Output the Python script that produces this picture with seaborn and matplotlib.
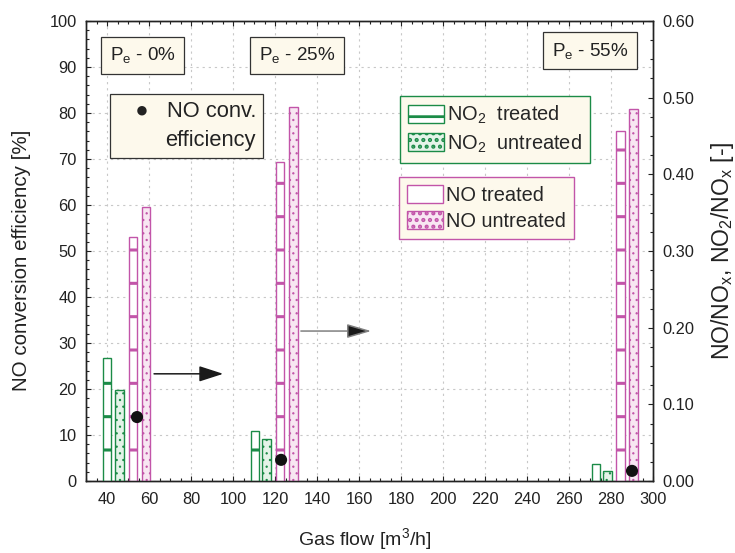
import numpy as np
import pandas as pd
import seaborn as sns
import matplotlib.pyplot as plt
from matplotlib.ticker import MultipleLocator

# gas flow position of every bar [m3/h]
x_no2_treated = [40.0, 110.5, 272.8]
x_no2_untreated = [46.0, 116.0, 278.3]
x_no_treated = [52.5, 122.4, 284.5]
x_no_untreated = [58.5, 128.8, 290.8]

# ratios NO/NOx and NO2/NOx [-] (right axis)
no2_treated = [0.161, 0.065, 0.022]
no2_untreated = [0.119, 0.055, 0.013]
no_treated = [0.318, 0.416, 0.457]
no_untreated = [0.357, 0.488, 0.485]

# NO conversion efficiency [%] (left axis)
eff_flow = [54.3, 122.9, 290.0]
no_eff = [13.9, 4.6, 2.2]

pe_labels = ["P$_e$ - 0%", "P$_e$ - 25%", "P$_e$ - 55%"]

GREEN = "#1b8b47"
PINK = "#c255a9"
CREAM = "#fdf9ec"

sns.set_theme(style="ticks")
plt.rcParams["font.family"] = ["Liberation Sans", "DejaVu Sans"]
plt.rcParams["mathtext.default"] = "regular"
plt.rcParams["axes.edgecolor"] = "#222222"

fig = plt.figure(figsize=(3.675, 2.765), dpi=200)
ax = fig.add_axes([86 / 735, 1 - 481 / 553, 567 / 735, 460 / 553])
ax2 = ax.twinx()   # bars, right scale
ax3 = ax.twinx()   # dots, left scale, on top

ax.set_xlim(30, 300)
ax.set_ylim(0, 100)
ax2.set_ylim(0, 0.6)
ax3.set_ylim(0, 100)

ax.xaxis.set_major_locator(MultipleLocator(20))
ax.xaxis.set_minor_locator(MultipleLocator(5))
ax.yaxis.set_major_locator(MultipleLocator(10))
ax.yaxis.set_minor_locator(MultipleLocator(2))
ax2.yaxis.set_major_locator(MultipleLocator(0.1))
ax2.yaxis.set_minor_locator(MultipleLocator(0.025))
ax2.yaxis.set_major_formatter("{x:.2f}")

ax.grid(True, which="major", color="#c8c8c8", linestyle=(0, (2, 3.5)), linewidth=0.4)

for a in (ax, ax2, ax3):
    for s in a.spines.values():
        s.set_linewidth(0.5)
ax.tick_params(which="both", direction="in", top=True, right=False, width=0.4,
               labelsize=5.9, colors="#222222")
ax.tick_params(which="major", length=1.8)
ax.tick_params(which="minor", length=1.0)
ax.tick_params(axis="y", pad=3.4)
ax.tick_params(axis="x", pad=4.0)
ax2.tick_params(which="both", direction="in", width=0.4, labelsize=5.9, pad=3.4,
                colors="#222222")
ax2.tick_params(which="major", length=1.8)
ax2.tick_params(which="minor", length=1.0)
ax3.yaxis.set_visible(False)
for s in ax3.spines.values():
    s.set_visible(False)


def draw_bars(x, h, fc, ec, hatch, hlw, label):
    with plt.rc_context({"hatch.linewidth": hlw}):
        cont = ax2.bar(x, h, width=4.0, facecolor=fc, edgecolor=ec, hatch=hatch,
                       linewidth=0.5, label=label)
    for p in cont:
        if hasattr(p, "set_hatch_linewidth"):
            p.set_hatch_linewidth(hlw)
    return cont


b1 = draw_bars(x_no2_treated, no2_treated, "white", GREEN, "-", 1.1, "NO$_2$  treated")
b2 = draw_bars(x_no2_untreated, no2_untreated, "#e4f3e8", GREEN, ".....", 0.35, "NO$_2$  untreated")
b3 = draw_bars(x_no_treated, no_treated, "white", PINK, "-", 1.1, "NO treated")
b4 = draw_bars(x_no_untreated, no_untreated, "#f8e6f2", PINK, ".....", 0.35, "NO untreated")

sns.scatterplot(x=eff_flow, y=no_eff, ax=ax3, color="#111111", s=19,
                edgecolor="none", zorder=5)

leg_kw = dict(loc="upper left", fontsize=7.2, frameon=True, fancybox=False,
              framealpha=1, facecolor=CREAM, handlelength=1.8, handleheight=1.0,
              handletextpad=0.15, labelspacing=0.3, borderpad=0.4, borderaxespad=0)
leg1 = ax2.legend(handles=[b1, b2], bbox_to_anchor=(0.554, 0.837), edgecolor=GREEN, **leg_kw)
leg1.get_frame().set_linewidth(0.5)
ax2.add_artist(leg1)
leg2 = ax2.legend(handles=[b3, b4], bbox_to_anchor=(0.552, 0.661), edgecolor=PINK, **leg_kw)
leg2.get_frame().set_linewidth(0.5)

# power labels
box = dict(boxstyle="square,pad=0.45", fc=CREAM, ec="#333333", lw=0.45)
for (px, py), lab in zip([(0.1005, 0.926), (0.372, 0.926), (0.889, 0.935)], pe_labels):
    ax3.text(px, py, lab, transform=ax3.transAxes, ha="center", va="center",
             fontsize=6.8, color="#222222", bbox=box)

# efficiency key
ax3.text(0.300, 0.826, "   \u25cf   NO conv.\nefficiency", transform=ax3.transAxes,
         ha="right", va="top", multialignment="right", fontsize=7.9, linespacing=1.5,
         color="#222222",
         bbox=dict(boxstyle="square,pad=0.3", fc=CREAM, ec="#333333", lw=0.45))

# arrows pointing to the right axis
ax3.annotate("", xy=(0.242, 0.233), xytext=(0.120, 0.233), xycoords="axes fraction",
             arrowprops=dict(arrowstyle="-|>,head_length=0.62,head_width=0.2",
                             fc="#1a1a1a", ec="#1a1a1a", lw=0.55, shrinkA=0, shrinkB=0,
                             mutation_scale=12))
ax3.annotate("", xy=(0.503, 0.326), xytext=(0.379, 0.326), xycoords="axes fraction",
             arrowprops=dict(arrowstyle="-|>,head_length=0.62,head_width=0.18",
                             fc="#1a1a1a", ec="#808080", lw=0.55, shrinkA=0, shrinkB=0,
                             mutation_scale=12))

ax.set_xlabel("Gas flow [m$^3$/h]", fontsize=7.0, color="#222222")
ax.set_ylabel("NO conversion efficiency [%]", fontsize=7.4, color="#222222")
ax2.set_ylabel("NO/NO$_x$, NO$_2$/NO$_x$ [-]", fontsize=8.3, color="#222222")
ax.xaxis.set_label_coords(0.492, -0.097)
ax.yaxis.set_label_coords(-0.097, 0.48)
ax2.yaxis.set_label_coords(1.098, 0.50)

fig.savefig("out.png", dpi=200)
